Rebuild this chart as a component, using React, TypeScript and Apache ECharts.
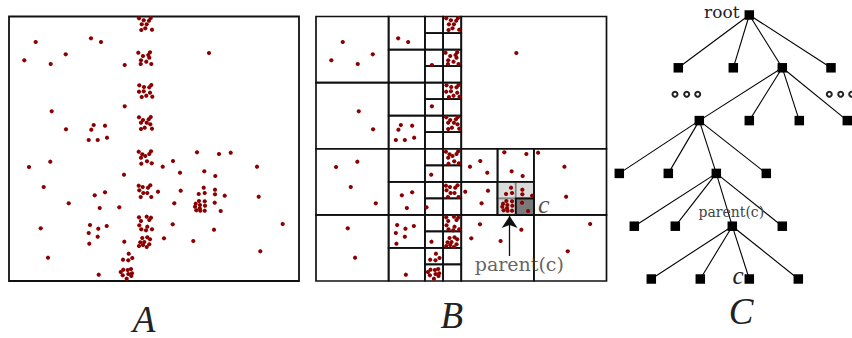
import { useEffect, useRef } from "react";
import * as echarts from "echarts";

// ---------- data ----------
// sample domain (panel frame), in the same units used by the points
const DOMAIN_X: [number, number] = [9, 299];
const DOMAIN_Y: [number, number] = [16.5, 281];

// dense column of clusters
const columnPoints: number[][] = [
  [139, 18.3], [143.7, 20.3], [149, 20.7], [150.7, 18], [141.7, 24.3], [146.7, 24.3], [145.3, 28.3], [141.3, 30], [152, 29.7],
  [138.3, 52.7], [143, 56], [148.3, 55], [150, 52.3], [149.3, 57.7], [141, 60.3], [146.3, 61.7], [140.7, 64], [151.3, 64],
  [139.3, 85.3], [144, 87], [149.3, 87.3], [151.3, 85], [139, 91.7], [143.7, 91.3], [150, 92.7], [141.7, 97], [146.3, 95.7], [152.3, 96.7],
  [139, 117.3], [143, 120], [148.7, 119.3], [150.7, 117], [141, 122.7], [146.7, 122.7], [150.3, 124.3], [144.7, 127.7], [141, 129], [152, 128.7],
  [138.7, 151.7], [142.3, 154.3], [145.3, 156], [149.3, 154], [151, 151.3], [141, 157.7], [147, 161.3], [141.3, 163.7], [151.7, 163.3],
  [138.7, 185.7], [142.7, 187], [148, 187.7], [150.3, 185.3], [139.3, 190.3], [143.3, 193], [147.3, 193], [140.7, 197], [151.3, 197], [158, 191.7],
  [139, 217.3], [141, 221], [146.7, 216.7], [149.3, 220], [151, 217.7], [139.3, 225.3], [147.3, 226.7], [141.3, 229.3], [146, 230.3], [152, 229.3],
  [142.3, 238], [147.3, 237.3], [150, 239.3], [140.3, 242.3], [144.3, 242], [139, 246], [143, 245], [146.7, 247], [149.3, 244.3],
  [128.7, 253.7], [132.3, 258], [123, 259.7], [128.3, 260.3], [120.7, 272], [123.3, 269.7], [127.7, 270], [131, 269], [128.3, 274], [132, 273.3], [122.7, 275.3], [126.7, 278.7], [131.3, 276],
];

// points left of the column
const leftPoints: number[][] = [
  [35.7, 42], [91, 38.3], [101, 42], [65.7, 54.3], [24.3, 60.3], [50.7, 64], [124.7, 65],
  [124.7, 106.3], [51.7, 111.3],
  [66, 129.3], [93.7, 125], [105, 125.7], [91.3, 129.7], [88.7, 140], [97.7, 140], [107, 137.7],
  [29, 167], [50.3, 161.7], [124, 174.7], [43.7, 187], [68.7, 203.3], [94.7, 195.3], [105, 192.3], [99.7, 208], [119.3, 207.3],
  [90, 225], [98.3, 228.7], [106.7, 226], [88.7, 233], [97.7, 236.7], [89.3, 243.7], [40.7, 228.3], [124.3, 241.7], [48, 257.7], [98.7, 274.7],
];

// points right of the column
const rightPoints: number[][] = [
  [209, 53],
  [197, 152.3], [219, 154], [230.7, 152.7], [173, 161], [162.7, 166.7], [180, 172.7], [204.3, 171.3], [215.3, 176], [257, 166.7],
  [180.7, 190.7], [203.7, 187.7], [198.7, 194], [204.7, 193], [215, 189.7], [215, 194.3], [224.7, 195.7], [258.7, 196.7], [174.3, 203.3],
  [199, 201], [204.7, 201.3], [195.7, 203.7], [200, 205], [205, 205.7], [195, 206.7], [199.7, 208.3], [196.3, 210.3], [200.3, 210.7], [204.7, 210.7],
  [214.7, 202.7], [220.7, 211], [172.7, 224.3], [214, 229.7], [164, 238.3], [193.3, 241], [282.7, 224], [260.3, 251.3],
];

const samplePoints = [...columnPoints, ...leftPoints, ...rightPoints];

// quadtree: cells that are subdivided (0 = top-left, 1 = top-right, 2 = bottom-left, 3 = bottom-right)
const quadSplits = ["", "0", "01", "011", "013", "03", "031", "033", "2", "21", "211", "213", "23", "231", "233", "3", "30", "303"];
const parentCellPath = "303";
const targetCellPath = "3033";

// annotation in panel B
const arrowFrom: [number, number] = [202.3, 256];
const arrowTo: [number, number] = [202.3, 216];
const parentTextAt: [number, number] = [212, 264];

// tree (panel C)
const treeX = [139.3, 68.3, 123.3, 172.3, 221, 89.3, 139.3, 189.3, 237.3, 9.3, 58.3, 106.3, 156.3, 24.3, 65.3, 122.3, 172.3, 41.3, 90.3, 139.3, 188.3];
const treeLevel = [0, 1, 1, 1, 1, 2, 2, 2, 2, 3, 3, 3, 3, 4, 4, 4, 4, 5, 5, 5, 5];
const treeParent = [-1, 0, 0, 0, 0, 3, 3, 3, 3, 5, 5, 5, 5, 11, 11, 11, 11, 15, 15, 15, 15];
const rootIndex = 0;
const parentNodeIndex = 15;
const targetNodeIndex = 19;
const ellipsisX = [65, 76.7, 87.7, 219.3, 230.7, 241.7];
const ellipsisLevel = 1.5;

const panelLabels = ["A", "B", "C"];

// ---------- helpers ----------
function cellBounds(path: string): number[] {
  let [x0, x1] = DOMAIN_X;
  let [y0, y1] = DOMAIN_Y;
  for (const ch of path) {
    const q = Number(ch);
    const mx = (x0 + x1) / 2;
    const my = (y0 + y1) / 2;
    if (q & 1) x0 = mx; else x1 = mx;
    if (q & 2) y0 = my; else y1 = my;
  }
  return [x0, y0, x1, y1];
}

function leafPaths(path: string): string[] {
  return quadSplits.includes(path) ? ["0", "1", "2", "3"].flatMap((q) => leafPaths(path + q)) : [path];
}

function rectSeries(data: number[][], style: any, axis: number) {
  return {
    type: "custom",
    xAxisIndex: axis,
    yAxisIndex: axis,
    clip: false,
    silent: true,
    data,
    renderItem: (_p: any, api: any) => {
      const a = api.coord([api.value(0), api.value(1)]);
      const b = api.coord([api.value(2), api.value(3)]);
      return {
        type: "rect",
        shape: {
          x: Math.min(a[0], b[0]),
          y: Math.min(a[1], b[1]),
          width: Math.abs(b[0] - a[0]),
          height: Math.abs(b[1] - a[1]),
        },
        style,
      };
    },
  };
}

const SERIF = "'DejaVu Serif', serif";
const ITALIC_SERIF = "'Liberation Serif', serif";
const DOT = "#8b0000";
const LINE = "#111";

export default function App() {
  const ref = useRef<HTMLDivElement>(null);

  useEffect(() => {
    if (!ref.current) return;
    const chart = echarts.init(ref.current, undefined, { renderer: "svg" });

    const leaves = leafPaths("").map(cellBounds);
    const parentChildren = ["0", "1", "2"].map((q) => cellBounds(parentCellPath + q));

    const edges = treeParent
      .map((p, i) => (p < 0 ? null : { coords: [[treeX[p], treeLevel[p]], [treeX[i], treeLevel[i]]] }))
      .filter(Boolean);

    const nodeData = treeX.map((x, i) => {
      const item: any = { value: [x, treeLevel[i]] };
      if (i === rootIndex) {
        item.label = { show: true, formatter: "root", position: "left", distance: 5, offset: [0, -3], fontFamily: SERIF, fontSize: 17, color: "#222" };
      } else if (i === parentNodeIndex) {
        item.label = { show: true, formatter: "parent(c)", position: "top", distance: 2, offset: [-1, 0], fontFamily: SERIF, fontSize: 14, color: "#444" };
      } else if (i === targetNodeIndex) {
        item.label = { show: true, formatter: "c", position: "left", distance: 1, offset: [0, -4], fontFamily: ITALIC_SERIF, fontStyle: "italic", fontSize: 25, color: "#222" };
      }
      return item;
    });

    const frameAxes = (n: number) =>
      Array.from({ length: n }, () => ({ type: "value", min: DOMAIN_X[0], max: DOMAIN_X[1], show: false }));
    const frameYAxes = (n: number) =>
      Array.from({ length: n }, () => ({ type: "value", min: DOMAIN_Y[0], max: DOMAIN_Y[1], inverse: true, show: false }));

    const option: any = {
      animation: false,
      backgroundColor: "#fff",
      grid: [
        { left: 9, top: 16.5, width: 290, height: 264.5 },
        { left: 316, top: 16.5, width: 290.5, height: 264.5 },
        { left: 610, top: 15, width: 242, height: 264 },
      ],
      xAxis: [...frameAxes(2), { type: "value", min: 0, max: 242, show: false }].map((a, i) => ({ ...a, gridIndex: i })),
      yAxis: [...frameYAxes(2), { type: "value", min: 0, max: 5, inverse: true, show: false }].map((a, i) => ({ ...a, gridIndex: i })),
      series: [
        // panel A
        rectSeries([cellBounds("")], { fill: "none", stroke: LINE, lineWidth: 1.8 }, 0),
        { type: "scatter", xAxisIndex: 0, yAxisIndex: 0, data: samplePoints, symbolSize: 4.2, itemStyle: { color: DOT, opacity: 1 }, clip: false, silent: true },
        // panel B
        rectSeries(leaves, { fill: "none", stroke: LINE, lineWidth: 1.7 }, 1),
        { type: "scatter", xAxisIndex: 1, yAxisIndex: 1, data: samplePoints, symbolSize: 4.2, itemStyle: { color: DOT, opacity: 1 }, clip: false, silent: true },
        rectSeries(parentChildren, { fill: "rgba(205,205,205,0.72)", stroke: "none" }, 1),
        rectSeries([cellBounds(targetCellPath)], { fill: "rgba(70,70,70,0.72)", stroke: "none" }, 1),
        rectSeries([cellBounds(parentCellPath), cellBounds(targetCellPath)], { fill: "none", stroke: LINE, lineWidth: 1.7 }, 1),
        {
          type: "lines",
          coordinateSystem: "cartesian2d",
          xAxisIndex: 1,
          yAxisIndex: 1,
          clip: false,
          silent: true,
          symbol: ["none", "arrow"],
          symbolSize: [0, 12],
          lineStyle: { color: LINE, width: 1.3, opacity: 1 },
          data: [{ coords: [arrowFrom, arrowTo] }],
        },
        {
          type: "scatter",
          xAxisIndex: 1,
          yAxisIndex: 1,
          clip: false,
          silent: true,
          symbolSize: 0,
          data: [
            { value: parentTextAt, label: { show: true, position: "inside", formatter: "parent(c)", fontFamily: SERIF, fontSize: 19, color: "#3a3a3a" } },
            {
              value: [cellBounds(targetCellPath)[2], (cellBounds(targetCellPath)[1] + cellBounds(targetCellPath)[3]) / 2],
              label: { show: true, position: "right", distance: 4, offset: [0, -2], formatter: "c", fontFamily: ITALIC_SERIF, fontStyle: "italic", fontSize: 26, color: "#222" },
            },
          ],
        },
        // panel C
        {
          type: "lines",
          coordinateSystem: "cartesian2d",
          xAxisIndex: 2,
          yAxisIndex: 2,
          clip: false,
          silent: true,
          lineStyle: { color: "#000", width: 1.1, opacity: 1 },
          data: edges,
        },
        {
          type: "scatter",
          xAxisIndex: 2,
          yAxisIndex: 2,
          clip: false,
          silent: true,
          symbol: "rect",
          symbolSize: 9.5,
          itemStyle: { color: "#000", opacity: 1 },
          data: nodeData,
        },
        {
          type: "scatter",
          xAxisIndex: 2,
          yAxisIndex: 2,
          clip: false,
          silent: true,
          symbol: "emptyCircle",
          symbolSize: 5,
          itemStyle: { color: "#222", borderWidth: 0.9, opacity: 1 },
          data: ellipsisX.map((x) => [x, ellipsisLevel]),
        },
      ],
      graphic: panelLabels.map((t, i) => ({
        type: "text",
        x: [144, 451.7, 741][i],
        y: [319, 315, 311][i],
        silent: true,
        style: {
          text: t,
          font: `italic 37px ${ITALIC_SERIF}`,
          fill: "#222",
          align: "center",
          verticalAlign: "middle",
          textAlign: "center",
          textVerticalAlign: "middle",
        },
      })),
    };

    chart.setOption(option);
    return () => chart.dispose();
  }, []);

  return <div ref={ref} style={{ position: "fixed", left: 0, top: 0, width: 852, height: 338, background: "#fff" }} />;
}
